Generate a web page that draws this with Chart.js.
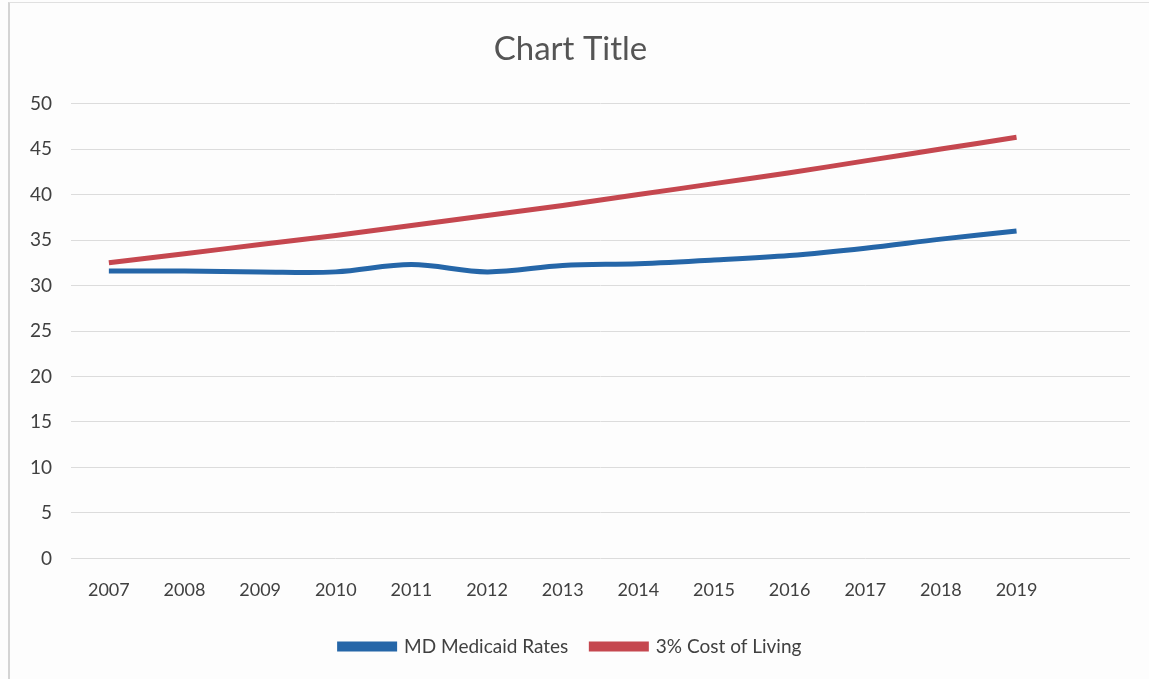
<!DOCTYPE html>
<html>
<head>
<meta charset="utf-8">
<script src="https://cdn.jsdelivr.net/npm/chart.js@4"></script>
<style>
  html, body { margin: 0; padding: 0; background: #fdfdfd; }
  #wrap { position: absolute; left: 0; top: 0; width: 1149px; height: 679px; }
  #frame { position: absolute; left: 8px; top: 2px; width: 1160px; height: 700px;
           border-left: 2px solid #d4d4d4; border-top: 1px solid #e0e0e0; pointer-events: none; }
</style>
</head>
<body>
<div id="wrap"><canvas id="myChart"></canvas></div>
<div id="frame"></div>
<script>
const years = ["2007","2008","2009","2010","2011","2012","2013","2014","2015","2016","2017","2018","2019",""];
const medicaidRates = [31.6, 31.6, 31.5, 31.5, 32.3, 31.5, 32.2, 32.4, 32.8, 33.3, 34.1, 35.1, 36.0];
const costOfLiving = [32.5, 33.5, 34.5, 35.5, 36.6, 37.7, 38.8, 40.0, 41.2, 42.4, 43.7, 45.0, 46.3];

const font = "Lato, 'Open Sans', sans-serif";
const ctx = document.getElementById("myChart");

new Chart(ctx, {
  type: "line",
  data: {
    labels: years,
    datasets: [
      {
        label: "MD Medicaid Rates",
        data: medicaidRates,
        borderColor: "#2566a8",
        backgroundColor: "#2566a8",
        borderWidth: 5,
        pointRadius: 0,
        tension: 0.35,
      },
      {
        label: "3% Cost of Living",
        data: costOfLiving,
        borderColor: "#c5474f",
        backgroundColor: "#c5474f",
        borderWidth: 5,
        pointRadius: 0,
        tension: 0.35,
      },
    ],
  },
  options: {
    responsive: true,
    maintainAspectRatio: false,
    animation: false,
    layout: { padding: { left: 11, right: 19, top: 0, bottom: 13 } },
    plugins: {
      title: {
        display: true,
        text: "Chart Title",
        color: "#555555",
        font: { family: font, size: 33, weight: "normal" },
        padding: { top: 30, bottom: 34 },
      },
      legend: {
        position: "bottom",
        labels: {
          color: "#404040",
          font: { family: font, size: 19 },
          boxWidth: 55,
          boxHeight: 5,
          padding: 23,
        },
      },
      tooltip: { enabled: false },
    },
    scales: {
      x: {
        offset: true,
        grid: { display: false },
        border: { display: false },
        ticks: { color: "#404040", font: { family: font, size: 18 }, padding: 13, maxRotation: 0, autoSkip: false },
      },
      y: {
        min: 0,
        max: 50,
        grid: { color: "#dcdcdc", drawTicks: false, lineWidth: 1 },
        border: { display: false },
        ticks: { stepSize: 5, color: "#404040", font: { family: font, size: 19 }, padding: 19 },
      },
    },
  },
});
</script>
</body>
</html>
